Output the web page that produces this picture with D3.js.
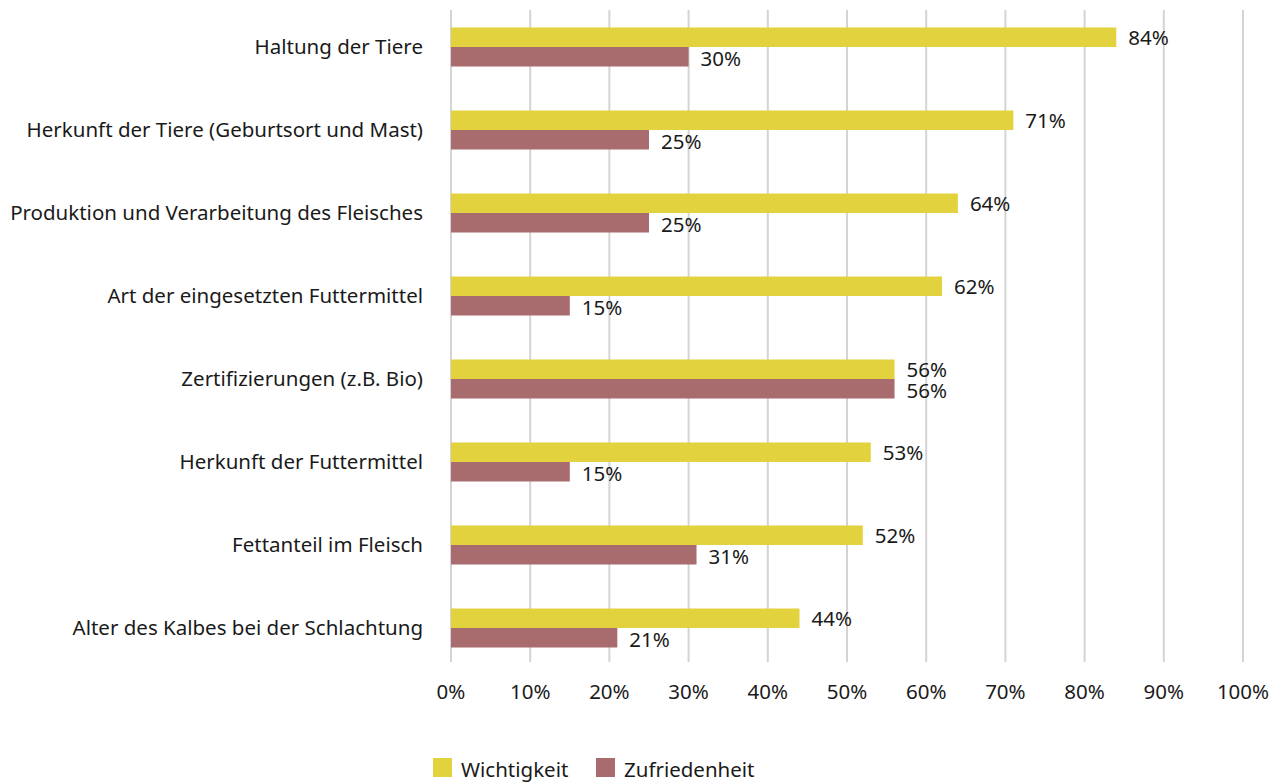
<!DOCTYPE html>
<html>
<head>
<meta charset="utf-8">
<script src="https://cdn.jsdelivr.net/npm/d3@7"></script>
<style>
  body { margin: 0; background: #fff; }
  svg text { font-family: "Noto Sans", sans-serif; fill: #1a1a1a; }
</style>
</head>
<body>
<div class="chart"></div>
<script>
// Data
const categories = [
  "Haltung der Tiere",
  "Herkunft der Tiere (Geburtsort und Mast)",
  "Produktion und Verarbeitung des Fleisches",
  "Art der eingesetzten Futtermittel",
  "Zertifizierungen (z.B. Bio)",
  "Herkunft der Futtermittel",
  "Fettanteil im Fleisch",
  "Alter des Kalbes bei der Schlachtung"
];
const seriesNames = ["Wichtigkeit", "Zufriedenheit"];
const wichtigkeit = [84, 71, 64, 62, 56, 53, 52, 44];
const zufriedenheit = [30, 25, 25, 15, 56, 15, 31, 21];
const ticks = [0, 10, 20, 30, 40, 50, 60, 70, 80, 90, 100];

const width = 1281, height = 782;
const colors = ["#e2d23d", "#a86c6e"];
const fs = "20.5px";

const svg = d3.select(".chart").append("svg")
    .attr("width", width)
    .attr("height", height);

const x = d3.scaleLinear().domain([0, 100]).range([451, 1243]);
const y = d3.scaleBand().domain(categories).range([5.5, 669.5]);
const ySub = d3.scaleBand().domain(seriesNames).range([0, 39]);

// gridlines
svg.append("g")
  .selectAll("line")
  .data(ticks)
  .enter().append("line")
    .attr("x1", d => x(d))
    .attr("x2", d => x(d))
    .attr("y1", 10)
    .attr("y2", 662)
    .attr("stroke", "#d4d4d4")
    .attr("stroke-width", 2);

// x tick labels
svg.append("g")
  .selectAll("text")
  .data(ticks)
  .enter().append("text")
    .attr("x", d => x(d))
    .attr("y", 692)
    .attr("dy", "0.35em")
    .attr("text-anchor", "middle")
    .style("font-size", fs)
    .text(d => d + "%");

// category labels
svg.append("g")
  .selectAll("text")
  .data(categories)
  .enter().append("text")
    .attr("x", 423)
    .attr("y", d => y(d) + y.bandwidth() / 2)
    .attr("dy", "0.35em")
    .attr("text-anchor", "end")
    .style("font-size", fs)
    .text(d => d);

const rows = categories.map((c, i) => ({
  cat: c,
  vals: [
    { s: seriesNames[0], v: wichtigkeit[i] },
    { s: seriesNames[1], v: zufriedenheit[i] }
  ]
}));

const group = svg.selectAll(".cat")
  .data(rows)
  .enter().append("g")
    .attr("class", "cat")
    .attr("transform", d => "translate(0," + (y(d.cat) + (y.bandwidth() - 39) / 2) + ")");

group.selectAll("rect")
  .data(d => d.vals)
  .enter().append("rect")
    .attr("x", x(0))
    .attr("y", d => ySub(d.s))
    .attr("width", d => x(d.v) - x(0))
    .attr("height", ySub.bandwidth())
    .attr("fill", (d, i) => colors[i]);

group.selectAll("text")
  .data(d => d.vals)
  .enter().append("text")
    .attr("x", d => x(d.v) + 12)
    .attr("y", (d, i) => ySub(d.s) + ySub.bandwidth() / 2 + (i === 0 ? 1 : 2.5))
    .attr("dy", "0.35em")
    .style("font-size", fs)
    .text(d => d.v + "%");

// legend
const legendX = [433, 596];
const legend = svg.selectAll(".legend")
  .data(seriesNames)
  .enter().append("g")
    .attr("class", "legend")
    .attr("transform", (d, i) => "translate(" + legendX[i] + ",758)");

legend.append("rect")
    .attr("width", 19)
    .attr("height", 19)
    .attr("fill", (d, i) => colors[i]);

legend.append("text")
    .attr("x", 28)
    .attr("y", 12)
    .attr("dy", "0.35em")
    .style("font-size", fs)
    .text(d => d);
</script>
</body>
</html>
